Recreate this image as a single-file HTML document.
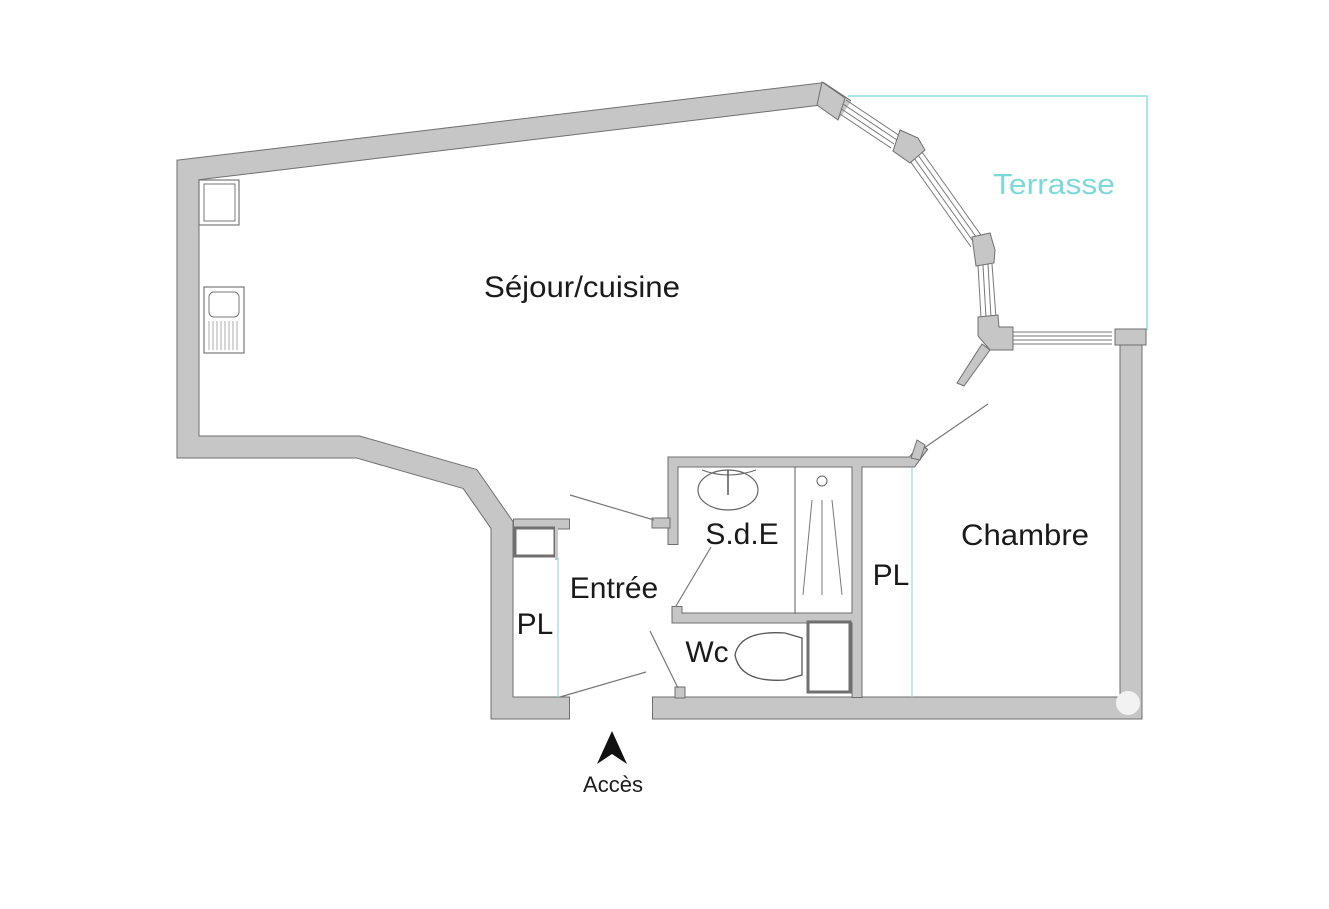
<!DOCTYPE html>
<html><head><meta charset="utf-8"><style>
html,body{margin:0;padding:0;background:#fff;}
svg{display:block}
text{font-family:"Liberation Sans",sans-serif;fill:#1a1a1a}
</style></head><body>
<svg width="1329" height="909" viewBox="0 0 1329 909" xmlns="http://www.w3.org/2000/svg">
<rect width="1329" height="909" fill="#fff"/>
<polyline points="848,96 1147,96 1147,330" fill="none" stroke="#8fdede" stroke-width="1.5"/>
<g fill="none" stroke-linejoin="miter" stroke-linecap="butt">
  <g stroke="#6f6f6f" stroke-width="23">
    <polyline points="845,110 821,94 188,170 188,447 358,447 470,479 502,525 502,708 570,708"/>
    <polyline points="652,708 1131,708 1131,330"/>
  </g>
  <g stroke="#c6c6c6" stroke-width="21">
    <polyline points="845,110 821,94 188,170 188,447 358,447 470,479 502,525 502,708 569,708"/>
    <polyline points="653,708 1131,708 1131,331"/>
  </g>
  <g stroke="#6f6f6f" stroke-width="11">
    <polyline points="673,545 673,462 912,462 924,446"/>
    <line x1="857" y1="462" x2="857" y2="698"/>
    <polyline points="677,606 677,618 857,618"/>
    <polyline points="513,524 570,524"/>
  </g>
  <g stroke="#c6c6c6" stroke-width="9">
    <polyline points="673,544 673,462 912,462 923,447"/>
    <line x1="857" y1="462" x2="857" y2="697"/>
    <polyline points="677,607 677,618 857,618"/>
    <polyline points="514,524 569,524"/>
  </g>
</g>
<rect x="652" y="518" width="18" height="10" fill="#c6c6c6" stroke="#6f6f6f"/>
<rect x="675" y="687" width="10" height="11" fill="#c6c6c6" stroke="#6f6f6f"/>
<rect x="1115" y="329" width="31" height="16" fill="#c6c6c6" stroke="#6f6f6f"/>
<rect x="515" y="528" width="40" height="28" fill="none" stroke="#6f6f6f" stroke-width="3"/>
<rect x="555" y="520" width="3" height="40" fill="#c6c6c6"/>
<line x1="558" y1="558" x2="558" y2="697" stroke="#8fdede" stroke-width="1.2"/>
<line x1="912" y1="468" x2="912" y2="697" stroke="#8fdede" stroke-width="1.2"/>
<g stroke="#777" stroke-width="1" fill="none">
  <line x1="846" y1="100" x2="900" y2="136"/><line x1="843" y1="104" x2="897" y2="140"/><line x1="840" y1="108" x2="894" y2="144"/><line x1="837" y1="112" x2="891" y2="148"/>
  <line x1="922" y1="152" x2="983" y2="238"/><line x1="918" y1="155" x2="979" y2="241"/><line x1="914" y1="158" x2="975" y2="244"/><line x1="910" y1="161" x2="971" y2="247"/>
  <line x1="992" y1="264" x2="996" y2="318"/><line x1="988" y1="264" x2="991" y2="318"/><line x1="983" y1="265" x2="986" y2="318"/><line x1="978" y1="265" x2="981" y2="318"/>
  <line x1="1013" y1="332" x2="1112" y2="332"/><line x1="1013" y1="336" x2="1112" y2="336"/><line x1="1013" y1="340" x2="1112" y2="340"/><line x1="1013" y1="344" x2="1112" y2="344"/>
</g>
<g fill="#c6c6c6" stroke="#6f6f6f" stroke-width="1">
  <polygon points="822,82 845,98 838,120 817,105"/>
  <polygon points="900,130 918,138 925,150 910,163 893,151"/>
  <polygon points="972,237 990,233 995,250 994,263 976,266"/>
  <polygon points="978,317 998,315 999,327 1013,327 1013,350 990,350 978,336"/>
  <polygon points="990,350 964,386 957,383 982,344"/>
  <polygon points="917,440 925,445 920,460 911,458"/>
</g>
<g stroke="#777" stroke-width="1.2">
  <line x1="570" y1="495" x2="654" y2="520"/>
  <line x1="676" y1="606" x2="711" y2="547"/>
  <line x1="650" y1="631" x2="678" y2="688"/>
  <line x1="560" y1="697" x2="646" y2="672"/>
  <line x1="924" y1="448" x2="988" y2="404"/>
</g>
<rect x="199" y="180" width="40" height="45" fill="#fff" stroke="#777" stroke-width="1.2"/>
<rect x="204" y="184" width="31" height="37" fill="none" stroke="#777" stroke-width="1"/>
<rect x="204" y="287" width="40" height="66" fill="#fff" stroke="#777" stroke-width="1.2"/>
<rect x="209" y="292" width="30" height="25" rx="5" fill="none" stroke="#777"/>
<g stroke="#999" stroke-width="0.8">
<line x1="209" y1="321" x2="209" y2="350"/><line x1="213" y1="321" x2="213" y2="350"/><line x1="217" y1="321" x2="217" y2="350"/><line x1="221" y1="321" x2="221" y2="350"/><line x1="225" y1="321" x2="225" y2="350"/><line x1="229" y1="321" x2="229" y2="350"/><line x1="233" y1="321" x2="233" y2="350"/><line x1="237" y1="321" x2="237" y2="350"/>
</g>
<ellipse cx="728" cy="490" rx="30" ry="20" fill="none" stroke="#666" stroke-width="1.2"/>
<path d="M702,470 Q728,480 756,470" fill="none" stroke="#666"/>
<line x1="728" y1="470" x2="728" y2="495" stroke="#555" stroke-width="1.5"/>
<line x1="795" y1="467" x2="795" y2="614" stroke="#777" stroke-width="1.2"/>
<circle cx="822" cy="481" r="5" fill="none" stroke="#666"/>
<g stroke="#777" stroke-width="1"><line x1="812" y1="500" x2="803" y2="595"/><line x1="822" y1="500" x2="822" y2="595"/><line x1="832" y1="500" x2="842" y2="595"/></g>
<rect x="808" y="622" width="42" height="70" fill="none" stroke="#6f6f6f" stroke-width="3"/>
<path d="M802,638 L785,633 Q740,630 735,655 Q740,683 785,680 L802,675 Z" fill="none" stroke="#555" stroke-width="1.3"/>
<circle cx="1128" cy="703" r="12" fill="#f2f2f2"/>
<polygon points="612,731 597,764 612,754 627,764" fill="#111"/>
<text x="582" y="297" font-size="30" text-anchor="middle" textLength="196" lengthAdjust="spacingAndGlyphs">Séjour/cuisine</text>
<text x="1054" y="194" font-size="29" text-anchor="middle" style="fill:#7dd9d9" textLength="122" lengthAdjust="spacingAndGlyphs">Terrasse</text>
<text x="1025" y="545" font-size="30" text-anchor="middle" textLength="128" lengthAdjust="spacingAndGlyphs">Chambre</text>
<text x="742" y="544" font-size="30" text-anchor="middle">S.d.E</text>
<text x="891" y="585" font-size="30" text-anchor="middle">PL</text>
<text x="614" y="598" font-size="30" text-anchor="middle">Entrée</text>
<text x="535" y="634" font-size="30" text-anchor="middle">PL</text>
<text x="707" y="662" font-size="30" text-anchor="middle">Wc</text>
<text x="613" y="792" font-size="22" text-anchor="middle">Accès</text>
</svg>
</body></html>
